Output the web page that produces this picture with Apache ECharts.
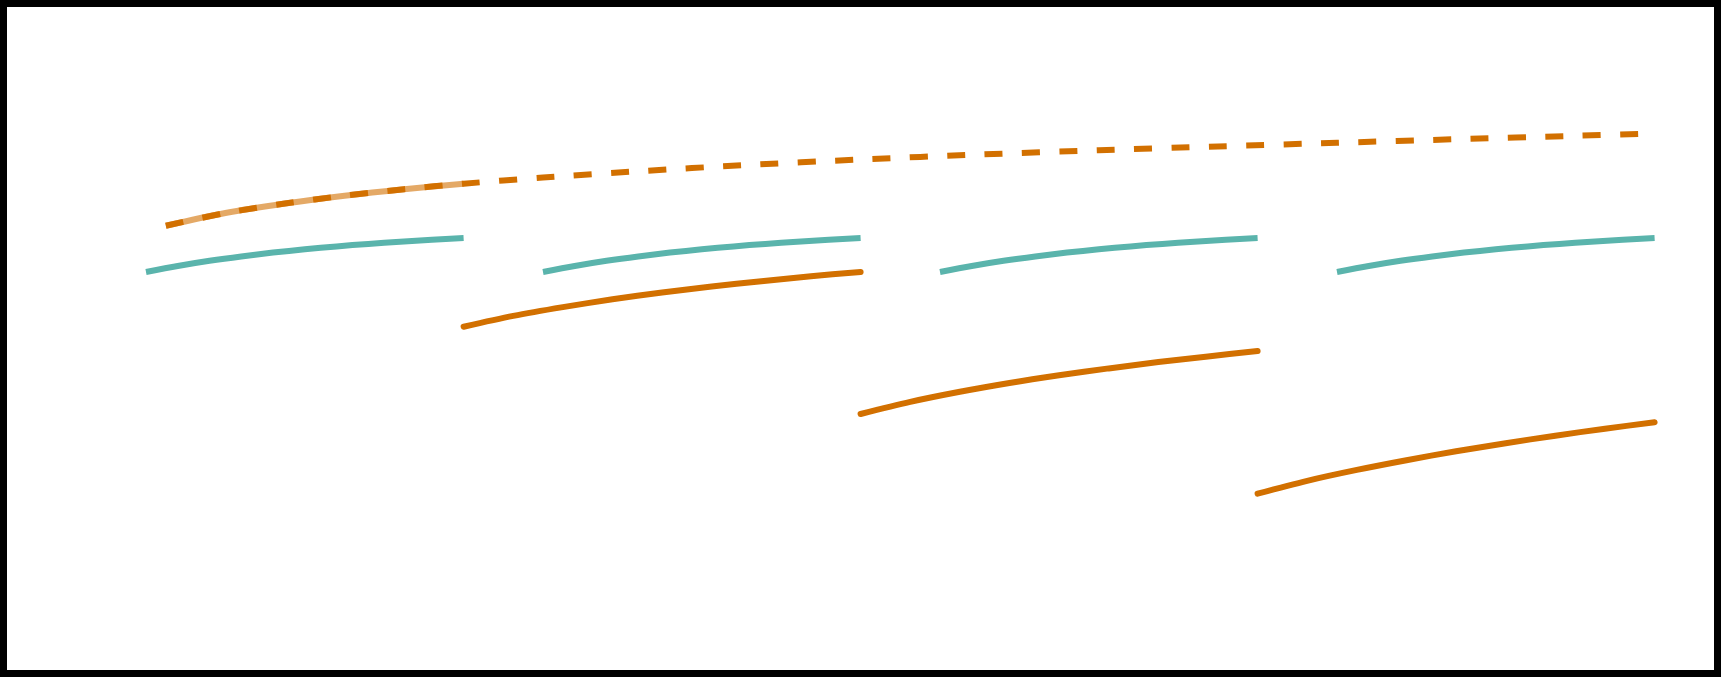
<!DOCTYPE html>
<html>
<head>
<meta charset="utf-8">
<script src="https://cdn.jsdelivr.net/npm/echarts@6/dist/echarts.min.js"></script>
<style>
html,body{margin:0;padding:0;background:#fff;}
#chart{width:1721px;height:677px;}
</style>
</head>
<body>
<div id="chart"></div>
<script>
// Time since first dose (x) and level (y)
var doseTimes = [0, 10, 20, 30];
var tealT = [0, 0.8, 1.6, 2.4, 3.2, 4.0, 4.8, 5.6, 6.4, 7.2, 8.0];
var tealY = [32.8, 33.40, 33.92, 34.36, 34.74, 35.07, 35.36, 35.61, 35.83, 36.03, 36.2];

var orange1X = [8, 9.25, 10.5, 11.75, 13, 14.25, 15.5, 16.75, 18];
var orange1Y = [27.33, 28.41, 29.29, 30.07, 30.75, 31.35, 31.88, 32.37, 32.81];
var orange2X = [18, 19.25, 20.5, 21.75, 23, 24.25, 25.5, 26.75, 28];
var orange2Y = [18.6, 19.81, 20.82, 21.7, 22.47, 23.16, 23.79, 24.36, 24.9];
var orange3X = [28, 29.25, 30.5, 31.75, 33, 34.25, 35.5, 36.75, 38];
var orange3Y = [10.63, 11.92, 13.01, 13.98, 14.87, 15.68, 16.43, 17.13, 17.78];

var dashX = [0.5, 2, 3.5, 5, 6.5, 8, 10, 12.5, 15, 18, 21, 24, 27, 30, 33, 36, 37.73];
var dashY = [37.43, 38.7, 39.65, 40.43, 41.08, 41.63, 42.25, 42.9, 43.47, 44.05, 44.55, 44.98, 45.36, 45.72, 46.08, 46.42, 46.62];
var lightEndX = 8;

var TEAL = '#5ab4ac';
var ORANGE = '#d27000';

function pairs(xs, ys) { return xs.map(function (x, i) { return [x, ys[i]]; }); }

var series = [];
var common = { type: 'line', smooth: 0.3, symbol: 'none', silent: true };
function mk(data, ls, z) {
  return Object.assign({}, common, { data: data, lineStyle: ls, z: z });
}
// light overlay under the dashed curve
var lightX = dashX.filter(function (x) { return x <= lightEndX; });
series.push(mk(pairs(lightX, dashY.slice(0, lightX.length)),
  { color: ORANGE, opacity: 0.6, width: 6, cap: 'butt' }, 1));
series.push(mk(pairs(dashX, dashY),
  { color: ORANGE, width: 6, type: [18, 19.4], cap: 'butt' }, 2));
doseTimes.forEach(function (d) {
  series.push(mk(tealT.map(function (t, i) { return [d + t, tealY[i]]; }),
    { color: TEAL, width: 6, cap: 'butt' }, 2));
});
[[orange1X, orange1Y], [orange2X, orange2Y], [orange3X, orange3Y]].forEach(function (s) {
  series.push(mk(pairs(s[0], s[1]), { color: ORANGE, width: 6, cap: 'round' }, 2));
});

var chart = echarts.init(document.getElementById('chart'), null, { renderer: 'canvas' });
chart.setOption({
  animation: false,
  backgroundColor: '#fff',
  grid: { left: 146, right: 66.4, top: 100, bottom: 77 },
  xAxis: { type: 'value', min: 0, max: 38, show: false },
  yAxis: { type: 'value', min: 0, max: 50, show: false },
  graphic: [{
    type: 'rect', silent: true, z: 100,
    shape: { x: 3.5, y: 3.5, width: 1714, height: 670 },
    style: { fill: 'none', stroke: '#000', lineWidth: 7 }
  }],
  series: series
});
</script>
</body>
</html>
